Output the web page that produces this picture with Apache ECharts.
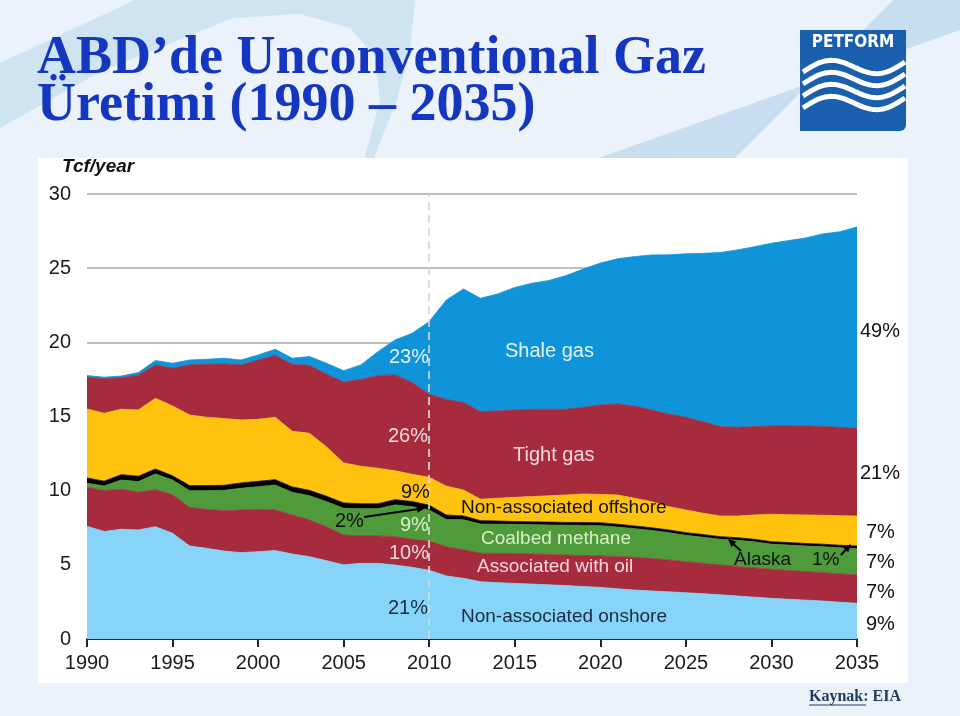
<!DOCTYPE html>
<html><head><meta charset="utf-8">
<script src="https://cdn.jsdelivr.net/npm/echarts@6/dist/echarts.min.js"></script>
<style>html,body{margin:0;padding:0;background:#ebf2fa}#c{width:960px;height:716px}</style>
</head><body><div id="c"></div>
<script>
// ---- Data (Tcf/year) ----
const years = ['1990','1991','1992','1993','1994','1995','1996','1997','1998','1999',
  '2000','2001','2002','2003','2004','2005','2006','2007','2008','2009',
  '2010','2011','2012','2013','2014','2015','2016','2017','2018','2019',
  '2020','2021','2022','2023','2024','2025','2026','2027','2028','2029',
  '2030','2031','2032','2033','2034','2035'];
const yTicks = [0, 5, 10, 15, 20, 25, 30];

const onshore = [7.6,7.25,7.4,7.35,7.57,7.13,6.27,6.11,5.93,5.82,
  5.89,5.96,5.73,5.55,5.28,5.0,5.1,5.1,4.99,4.83,
  4.63,4.25,4.09,3.86,3.8,3.75,3.7,3.65,3.6,3.54,
  3.48,3.39,3.3,3.24,3.18,3.12,3.05,2.98,2.9,2.82,
  2.74,2.68,2.62,2.56,2.48,2.41];
const assocOil = [2.63,2.75,2.7,2.55,2.48,2.59,2.6,2.63,2.72,2.88,
  2.85,2.74,2.63,2.47,2.29,2.01,1.85,1.85,1.91,1.89,
  1.97,1.97,1.93,1.92,1.97,2.01,2.03,2.05,2.06,2.09,
  2.12,2.16,2.21,2.18,2.15,2.09,2.05,2.01,1.98,1.97,
  1.96,1.94,1.93,1.91,1.92,1.91];
const coalbed = [0.27,0.32,0.62,0.71,1.08,1.0,1.13,1.26,1.37,1.46,
  1.53,1.68,1.53,1.64,1.69,1.8,1.83,1.83,2.14,2.2,
  2.1,1.83,2.02,1.97,1.97,1.97,1.98,1.99,2.01,2.03,
  2.04,2.0,1.93,1.9,1.84,1.78,1.76,1.73,1.77,1.76,
  1.69,1.71,1.72,1.75,1.75,1.77];
const alaska = [0.36,0.32,0.36,0.36,0.33,0.28,0.34,0.34,0.34,0.36,
  0.36,0.36,0.36,0.36,0.36,0.36,0.34,0.34,0.35,0.35,
  0.32,0.31,0.26,0.23,0.21,0.19,0.19,0.19,0.19,0.19,
  0.20,0.19,0.18,0.18,0.18,0.18,0.18,0.18,0.18,0.17,
  0.17,0.17,0.17,0.17,0.17,0.18];
const offshore = [4.64,4.58,4.41,4.47,4.77,4.71,4.76,4.61,4.5,4.25,
  4.18,4.21,3.75,3.85,3.33,2.7,2.53,2.39,1.95,1.83,
  1.88,1.94,1.75,1.44,1.54,1.63,1.7,1.77,1.85,1.93,
  1.91,1.97,1.87,1.76,1.57,1.53,1.44,1.39,1.46,1.64,
  1.85,1.88,1.92,1.95,1.99,2.02];
const tight = [2.15,2.33,2.13,2.36,2.25,2.54,3.38,3.57,3.68,3.71,
  4.0,4.17,4.52,4.58,4.9,5.46,5.85,6.26,6.46,6.2,
  5.6,5.85,5.9,5.91,5.88,5.89,5.89,5.84,5.78,5.84,
  6.03,6.14,6.21,6.18,6.25,6.25,6.17,6.03,5.98,5.96,
  5.95,5.98,6.02,5.99,5.96,5.91];
const shale = [0.11,0.1,0.11,0.16,0.29,0.34,0.33,0.34,0.39,0.33,
  0.34,0.41,0.41,0.59,0.74,0.76,0.98,1.6,2.36,3.31,
  4.9,6.7,7.65,7.64,7.89,8.26,8.49,8.68,9.01,9.32,
  9.56,9.78,10.08,10.45,10.73,11.02,11.35,11.73,11.96,12.13,
  12.32,12.5,12.66,12.98,13.19,13.58];
const projectionStart = '2010';

// ---- Styling ----
const SANS = '"Liberation Sans", Arial, sans-serif';
const SERIF = '"Liberation Serif", "Times New Roman", serif';
const C = {
  onshore:'#86d4f7', oil:'#a52b3d', cbm:'#4f9a3a', alaska:'#000000',
  offshore:'#ffc20f', tight:'#a52b3d', shale:'#0f94d9'
};

function area(name, data, color, extra) {
  return Object.assign({
    name, type:'line', stack:'total', data, symbol:'none', silent:true,
    lineStyle:{width:0.8, color}, areaStyle:{color, opacity:1}, itemStyle:{color}
  }, extra || {});
}

const chart = echarts.init(document.getElementById('c'), null, {renderer:'canvas'});

function txt(text, x, y, fill, size, align, extraFont) {
  return {type:'text', z:100, style:{text, x, y, fill,
    font:(extraFont||'') + ' ' + (size||20) + 'px ' + SANS,
    textAlign:align||'left', textVerticalAlign:'middle', verticalAlign:'middle'}};
}
function arrow(x1, y1, x2, y2) {
  const ang = Math.atan2(y2-y1, x2-x1), L = 8, W = 3.5;
  const bx = x2 - L*Math.cos(ang), by = y2 - L*Math.sin(ang);
  const px = -Math.sin(ang)*W, py = Math.cos(ang)*W;
  return [
    {type:'line', z:100, shape:{x1, y1, x2:bx, y2:by}, style:{stroke:'#000', lineWidth:2}},
    {type:'polygon', z:100, shape:{points:[[x2,y2],[bx+px,by+py],[bx-px,by-py]]}, style:{fill:'#000'}}
  ];
}

// decorative logo waves
const waves = [];
for (let k = 0; k < 4; k++) {
  const pts = [];
  for (let x = 803; x <= 905; x += 2) {
    const t = (x - 803) / 102;
    pts.push([x, 72 + k*12 - 10*t - 9*Math.sin(t*2*Math.PI)]);
  }
  waves.push({type:'polyline', z:5, shape:{points:pts}, style:{stroke:'#fff', lineWidth:5, fill:null}});
}

const titleStyle = {fill:'#1537c0', font:'bold 54px ' + SERIF, textVerticalAlign:'top', verticalAlign:'top'};

const graphic = [
  {type:'rect', z:-100, shape:{x:0,y:0,width:960,height:716}, style:{fill:'#ebf2fa'}},
  {type:'polygon', z:-90, shape:{points:[[0,63],[135,0],[415,0],[410,50],[397,100],[373,160],[364,160],[380,100],[374,55],[350,28],[300,14],[233,18],[100,72],[0,128]]}, style:{fill:'#cfe4f1'}},
  {type:'polygon', z:-90, shape:{points:[[593,160],[733,160],[893,0],[960,0],[960,30]]}, style:{fill:'#c7dff0'}},
  {type:'rect', z:-80, shape:{x:38,y:158,width:870,height:525}, style:{fill:'#ffffff'}},
  // Title
  {type:'text', z:10, style:Object.assign({text:'ABD\u2019de Unconventional Gaz', x:37, y:32}, titleStyle)},
  {type:'text', z:10, style:Object.assign({text:'\u00dcretimi (1990 \u2013 2035)', x:37, y:79}, titleStyle)},
  // Logo
  {type:'rect', z:4, shape:{x:800,y:30,width:106,height:101, r:[0,0,6,0]}, style:{fill:'#1a5eae'}},
  {type:'text', z:6, style:{text:'PETFORM', x:853, y:43, fill:'#fff', font:'bold 17px "Liberation Sans Narrow", "DejaVu Sans Condensed", Arial, sans-serif', textAlign:'center', textVerticalAlign:'middle', verticalAlign:'middle'}},
  ...waves,
  // Unit
  {type:'text', z:10, style:{text:'Tcf/year', x:62, y:167, fill:'#111', font:'italic bold 19px ' + SANS, textVerticalAlign:'middle', verticalAlign:'middle'}},
  // Source
  {type:'text', z:10, style:{text:'Kaynak: EIA', x:809, y:697, fill:'#1f3d63', font:'bold 16px ' + SERIF, textVerticalAlign:'middle', verticalAlign:'middle'}},
  {type:'line', z:10, shape:{x1:809, y1:705, x2:866, y2:705}, style:{stroke:'#1f3d63', lineWidth:1.2}},
  // In-chart labels
  txt('23%', 389, 357, '#e3f3fc'),
  txt('Shale gas', 505, 351, '#e3f3fc'),
  txt('26%', 388, 436, '#f6d8dd'),
  txt('Tight gas', 513, 455, '#f6d8dd'),
  txt('9%', 401, 492, '#111'),
  txt('2%', 335, 521, '#111'),
  txt('9%', 400, 525, '#d8f0c8'),
  txt('10%', 389, 553, '#f6d8dd'),
  txt('21%', 388, 608, '#1a2a44'),
  txt('Non-associated offshore', 461, 508, '#111', 19),
  txt('Coalbed methane', 481, 539, '#d8f0c8', 19),
  txt('Associated with oil', 477, 567, '#f6d8dd', 19),
  txt('Non-associated onshore', 461, 617, '#1a2a44', 19),
  txt('Alaska', 734, 560, '#111', 19),
  txt('1%', 812, 560, '#111', 19),
  ...arrow(364, 517, 425, 508),
  ...arrow(741, 551, 728, 539),
  ...arrow(841, 555, 851, 544),
  // Right shares (2035)
  txt('49%', 860, 331, '#111'),
  txt('21%', 860, 473, '#111'),
  txt('7%', 866, 532, '#111'),
  txt('7%', 866, 562, '#111'),
  txt('7%', 866, 592, '#111'),
  txt('9%', 866, 624, '#111')
];

const option = {
  animation:false,
  backgroundColor:'#ebf2fa',
  textStyle:{fontFamily:SANS},
  grid:{left:87, right:103, top:194, bottom:77, containLabel:false},
  xAxis:{
    type:'category', data:years, boundaryGap:false,
    axisLine:{show:true, lineStyle:{color:'#1b2838', width:2}},
    axisTick:{show:true, length:8, lineStyle:{color:'#1b2838', width:2},
      interval:(i, v) => (+v) % 5 === 0},
    axisLabel:{interval:(i, v) => (+v) % 5 === 0, fontSize:20, color:'#1a1a1a', margin:14, fontFamily:SANS},
    splitLine:{show:false}
  },
  yAxis:{
    type:'value', min:yTicks[0], max:yTicks[yTicks.length-1], interval:5,
    axisLine:{show:false}, axisTick:{show:false},
    axisLabel:{fontSize:20, color:'#1a1a1a', margin:16, fontFamily:SANS},
    splitLine:{show:true, lineStyle:{color:'#a8a8a8', width:1.5}}
  },
  series:[
    area('Non-associated onshore', onshore, C.onshore),
    area('Associated with oil', assocOil, C.oil),
    area('Coalbed methane', coalbed, C.cbm),
    area('Alaska', alaska, C.alaska),
    area('Non-associated offshore', offshore, C.offshore),
    area('Tight gas', tight, C.tight),
    area('Shale gas', shale, C.shale, {
      markLine:{silent:true, symbol:'none', label:{show:false},
        lineStyle:{type:[8,5], color:'rgba(214,214,214,0.85)', width:2},
        data:[{xAxis:projectionStart}]}
    })
  ],
  graphic:graphic
};
chart.setOption(option);
</script>
</body></html>
